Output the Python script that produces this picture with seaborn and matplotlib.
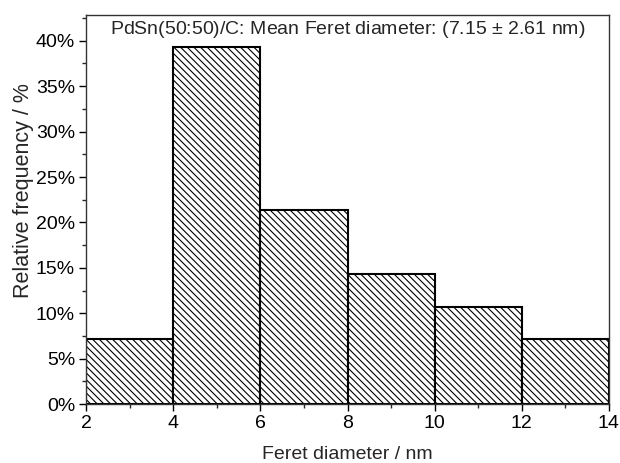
import numpy as np
import pandas as pd
import matplotlib
matplotlib.use("Agg")
import matplotlib.pyplot as plt
import seaborn as sns
from matplotlib.ticker import PercentFormatter, MultipleLocator

# Data
bin_edges = [2, 4, 6, 8, 10, 12, 14]
bin_centers = [3, 5, 7, 9, 11, 13]
rel_freq = [2/28, 11/28, 6/28, 4/28, 3/28, 2/28]
title_text = "PdSn(50:50)/C: Mean Feret diameter: (7.15 $\\pm$ 2.61 nm)"
x_label = "Feret diameter / nm"
y_label = "Relative frequency / %"

sns.set_theme(style="ticks")
plt.rcParams['font.family'] = ['Liberation Sans', 'DejaVu Sans']
plt.rcParams['mathtext.fontset'] = 'custom'
plt.rcParams['mathtext.rm'] = 'Liberation Sans'
plt.rcParams['hatch.linewidth'] = 0.8

df = pd.DataFrame({"d": bin_centers, "f": rel_freq})

fig = plt.figure(figsize=(6.2, 4.63), dpi=100)
ax = fig.add_axes([0.139, 0.127, 0.843, 0.841])

sns.histplot(data=df, x="d", weights="f", bins=bin_edges, stat="count",
             color="white", edgecolor="black", linewidth=1.5, alpha=1,
             ax=ax)
for p in ax.patches:
    p.set_hatch("\\\\\\\\\\")
    p.set_facecolor("white")
    p.set_edgecolor("black")

ax.set_xlim(2, 14)
ax.set_ylim(0, 12/28)
ax.xaxis.set_major_locator(MultipleLocator(2))
ax.xaxis.set_minor_locator(MultipleLocator(1))
ax.yaxis.set_major_locator(MultipleLocator(0.05))
ax.yaxis.set_minor_locator(MultipleLocator(0.025))
ax.yaxis.set_major_formatter(PercentFormatter(1.0, decimals=0))

ax.tick_params(axis="both", which="major", direction="out", length=5, width=1,
               labelsize=14, colors="black", top=False, right=False, pad=3)
ax.tick_params(axis="both", which="minor", direction="out", length=3, width=1,
               top=False, right=False)
for s in ax.spines.values():
    s.set_visible(True)
    s.set_linewidth(1)
    s.set_color("#333333")

ax.set_xlabel(x_label, fontsize=14, labelpad=10)
ax.set_ylabel(y_label, fontsize=15.5)
ax.yaxis.set_label_coords(-0.099, 0.548)
ax.text(0.5, 0.99, title_text, transform=ax.transAxes, ha="center", va="top",
        fontsize=14)

fig.savefig("out.png", dpi=100)
